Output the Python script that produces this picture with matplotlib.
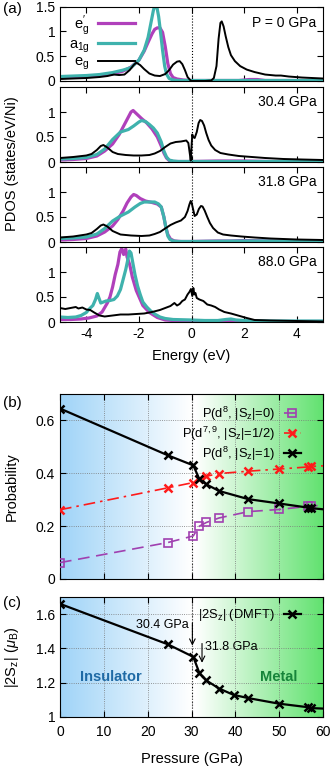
import numpy as np
import matplotlib
matplotlib.use("Agg")
import matplotlib.pyplot as plt

plt.rcParams["font.family"] = ["Liberation Sans", "DejaVu Sans"]
plt.rcParams["mathtext.fontset"] = "custom"
plt.rcParams["mathtext.rm"] = "Liberation Sans"
plt.rcParams["mathtext.it"] = "Liberation Sans:italic"
plt.rcParams["font.size"] = 10

# ---------------- (a) PDOS data ----------------
# P = 0 GPa
e0_eg = [-5.0, -4.5, -4.0, -3.5, -3.2, -2.95, -2.75, -2.55, -2.35, -2.2, -2.1, -1.95, -1.8, -1.6, -1.4, -1.2,
         -1.0, -0.85, -0.7, -0.55, -0.45, -0.35, -0.25, -0.15, -0.05, 0.0, 0.5, 0.75, 0.85, 0.95, 1.03, 1.1,
         1.15, 1.22, 1.3, 1.4, 1.5, 1.65, 1.85, 2.1, 2.4, 2.8, 3.2, 3.4, 3.7, 4.2, 5.0]
d0_eg = [0.04, 0.05, 0.06, 0.08, 0.10, 0.13, 0.12, 0.13, 0.22, 0.32, 0.37, 0.32, 0.24, 0.15, 0.11, 0.10,
         0.14, 0.22, 0.33, 0.39, 0.40, 0.34, 0.22, 0.08, 0.02, 0.0, 0.0, 0.01, 0.06, 0.30, 0.85, 1.17,
         1.20, 1.10, 0.90, 0.68, 0.52, 0.40, 0.30, 0.23, 0.18, 0.13, 0.11, 0.11, 0.09, 0.07, 0.05]
e0_egp = [-5.0, -4.5, -4.0, -3.5, -3.0, -2.6, -2.3, -2.0, -1.8, -1.65, -1.5, -1.4, -1.3, -1.2, -1.1, -1.0,
          -0.9, -0.8, -0.7, -0.55, -0.3, 0.0, 1.8, 2.2, 2.5, 2.8, 3.5, 5.0]
d0_egp = [0.07, 0.08, 0.09, 0.11, 0.14, 0.20, 0.28, 0.42, 0.60, 0.78, 0.95, 1.04, 1.07, 1.07, 0.98, 0.70,
          0.35, 0.15, 0.07, 0.04, 0.02, 0.01, 0.01, 0.03, 0.03, 0.01, 0.01, 0.01]
e0_a1g = [-5.0, -4.5, -4.0, -3.5, -3.0, -2.6, -2.3, -2.0, -1.8, -1.65, -1.55, -1.45, -1.38, -1.32, -1.25,
          -1.17, -1.1, -1.02, -0.95, -0.85, -0.7, -0.5, 0.0, 5.0]
d0_a1g = [0.09, 0.10, 0.11, 0.13, 0.17, 0.22, 0.27, 0.42, 0.62, 0.88, 1.15, 1.42, 1.55, 1.50, 1.30,
          0.95, 0.62, 0.30, 0.14, 0.05, 0.02, 0.01, 0.01, 0.01]

# P = 30.4 GPa
e1_eg = [-5.0, -4.5, -4.0, -3.8, -3.6, -3.45, -3.35, -3.2, -3.0, -2.8, -2.5, -2.2, -1.9, -1.6, -1.4, -1.2,
         -1.0, -0.8, -0.6, -0.4, -0.2, -0.12, -0.06, -0.03, 0.0, 0.03, 0.06, 0.12, 0.2, 0.27, 0.33, 0.4,
         0.48, 0.56, 0.65, 0.75, 0.9, 1.1, 1.4, 1.8, 2.3, 2.8, 3.5, 4.2, 5.0]
d1_eg = [0.08, 0.10, 0.13, 0.16, 0.24, 0.32, 0.34, 0.29, 0.20, 0.16, 0.14, 0.13, 0.13, 0.14, 0.17, 0.22,
         0.30, 0.37, 0.40, 0.41, 0.43, 0.38, 0.15, 0.03, 0.30, 0.55, 0.50, 0.48, 0.60, 0.78, 0.84, 0.82,
         0.73, 0.58, 0.44, 0.33, 0.24, 0.18, 0.15, 0.12, 0.10, 0.08, 0.06, 0.05, 0.04]
e1_egp = [-5.0, -4.5, -4.0, -3.6, -3.3, -3.0, -2.75, -2.55, -2.4, -2.3, -2.22, -2.1, -1.9, -1.7, -1.5, -1.3,
          -1.15, -1.05, -0.95, -0.85, -0.7, -0.5, 0.0, 1.0, 1.5, 2.0, 3.0, 5.0]
d1_egp = [0.04, 0.05, 0.07, 0.12, 0.22, 0.36, 0.55, 0.75, 0.90, 1.00, 1.03, 0.97, 0.87, 0.78, 0.66, 0.50,
          0.32, 0.18, 0.08, 0.03, 0.01, 0.01, 0.01, 0.02, 0.02, 0.02, 0.01, 0.01]
e1_a1g = [-5.0, -4.5, -4.0, -3.6, -3.3, -3.0, -2.7, -2.4, -2.2, -2.0, -1.9, -1.75, -1.6, -1.45, -1.3, -1.15,
          -1.05, -0.95, -0.85, -0.7, -0.5, 0.0, 5.0]
d1_a1g = [0.06, 0.07, 0.09, 0.15, 0.26, 0.45, 0.60, 0.65, 0.72, 0.80, 0.83, 0.81, 0.75, 0.68, 0.58, 0.40,
          0.22, 0.10, 0.04, 0.02, 0.01, 0.01, 0.01]

# P = 31.8 GPa
e2_eg = [-5.0, -4.5, -4.0, -3.8, -3.6, -3.45, -3.35, -3.2, -3.0, -2.7, -2.3, -1.9, -1.6, -1.4, -1.2, -1.0,
         -0.8, -0.6, -0.4, -0.25, -0.15, -0.08, -0.03, 0.0, 0.05, 0.12, 0.2, 0.28, 0.36, 0.42, 0.5, 0.6,
         0.7, 0.82, 1.0, 1.2, 1.5, 1.9, 2.4, 3.0, 4.0, 5.0]
d2_eg = [0.09, 0.11, 0.15, 0.18, 0.26, 0.33, 0.35, 0.31, 0.22, 0.15, 0.13, 0.12, 0.13, 0.16, 0.20, 0.27,
         0.34, 0.39, 0.43, 0.50, 0.62, 0.75, 0.82, 0.80, 0.68, 0.52, 0.55, 0.66, 0.72, 0.71, 0.63, 0.50,
         0.38, 0.28, 0.19, 0.15, 0.13, 0.11, 0.09, 0.07, 0.05, 0.04]
e2_egp = [-5.0, -4.5, -4.0, -3.6, -3.3, -3.0, -2.8, -2.6, -2.45, -2.3, -2.2, -2.1, -1.95, -1.75, -1.5, -1.3,
          -1.15, -1.05, -0.98, -0.9, -0.8, -0.65, -0.4, 0.0, 1.0, 1.5, 2.0, 3.0, 5.0]
d2_egp = [0.04, 0.05, 0.07, 0.12, 0.20, 0.32, 0.45, 0.62, 0.78, 0.90, 0.95, 0.93, 0.87, 0.82, 0.79, 0.76,
          0.70, 0.50, 0.30, 0.15, 0.06, 0.02, 0.01, 0.01, 0.02, 0.02, 0.03, 0.02, 0.01]
e2_a1g = [-5.0, -4.5, -4.0, -3.6, -3.3, -3.0, -2.7, -2.4, -2.15, -1.95, -1.8, -1.6, -1.4, -1.25, -1.15,
          -1.05, -0.97, -0.9, -0.82, -0.7, -0.5, 0.0, 2.0, 3.0, 5.0]
d2_a1g = [0.07, 0.08, 0.10, 0.16, 0.27, 0.42, 0.52, 0.60, 0.70, 0.77, 0.80, 0.80, 0.80, 0.76, 0.70,
          0.50, 0.28, 0.12, 0.05, 0.02, 0.01, 0.01, 0.02, 0.02, 0.01]

# P = 88.0 GPa
e3_eg = [-5.0, -4.8, -4.6, -4.4, -4.3, -4.15, -4.0, -3.85, -3.7, -3.5, -3.3, -3.0, -2.7, -2.4, -2.1, -1.8,
         -1.5, -1.2, -1.0, -0.8, -0.65, -0.55, -0.45, -0.35, -0.25, -0.15, -0.08, -0.02, 0.03, 0.07, 0.11,
         0.15, 0.2, 0.3, 0.45, 0.6, 0.75, 0.9, 1.05, 1.25, 1.5, 1.7, 1.9, 2.1, 2.4, 3.0, 4.0, 5.0]
d3_eg = [0.28, 0.26, 0.28, 0.30, 0.27, 0.29, 0.25, 0.24, 0.19, 0.13, 0.11, 0.13, 0.15, 0.15, 0.16, 0.17,
         0.20, 0.24, 0.28, 0.32, 0.38, 0.33, 0.36, 0.42, 0.45, 0.55, 0.60, 0.66, 0.52, 0.68, 0.55,
         0.58, 0.48, 0.45, 0.42, 0.35, 0.33, 0.30, 0.25, 0.20, 0.17, 0.14, 0.11, 0.08, 0.04, 0.03, 0.02, 0.01]
e3_egp = [-5.0, -4.6, -4.2, -3.9, -3.6, -3.4, -3.2, -3.1, -3.0, -2.9, -2.8, -2.72, -2.65, -2.58, -2.5,
          -2.45, -2.35, -2.25, -2.1, -1.95, -1.85, -1.6, -1.3, -1.0, -0.7, 0.0, 1.0, 1.5, 2.0, 3.0, 5.0]
d3_egp = [0.05, 0.05, 0.06, 0.08, 0.12, 0.20, 0.38, 0.50, 0.70, 0.95, 1.15, 1.40, 1.47, 1.35, 1.46,
          1.30, 1.15, 0.90, 0.63, 0.45, 0.33, 0.19, 0.09, 0.04, 0.03, 0.02, 0.02, 0.03, 0.02, 0.01, 0.01]
e3_a1g = [-5.0, -4.7, -4.4, -4.2, -4.0, -3.85, -3.75, -3.65, -3.58, -3.52, -3.45, -3.35, -3.25, -3.1, -2.95,
          -2.82, -2.7, -2.6, -2.5, -2.42, -2.36, -2.3, -2.22, -2.15, -2.05, -1.95, -1.85, -1.7, -1.55, -1.4,
          -1.2, -1.0, -0.7, 0.0, 0.5, 1.0, 1.3, 1.5, 1.7, 2.0, 3.0, 5.0]
d3_a1g = [0.10, 0.09, 0.10, 0.13, 0.19, 0.28, 0.33, 0.45, 0.57, 0.48, 0.38, 0.40, 0.42, 0.43, 0.45,
          0.52, 0.65, 0.85, 1.05, 1.25, 1.42, 1.38, 1.15, 0.95, 0.72, 0.55, 0.40, 0.30, 0.22, 0.16,
          0.10, 0.07, 0.05, 0.04, 0.03, 0.03, 0.05, 0.06, 0.04, 0.03, 0.02, 0.02]

pdos_labels = ["P = 0 GPa", "30.4 GPa", "31.8 GPa", "88.0 GPa"]

# ---------------- (b) probabilities ----------------
press_b = [0.0, 24.6, 30.4, 31.8, 33.4, 36.3, 43.0, 49.9, 56.6, 57.3, 88.0]
prob_sz0 = [0.062, 0.138, 0.163, 0.200, 0.214, 0.231, 0.255, 0.263, 0.275, 0.277, 0.29]
prob_sz12 = [0.262, 0.345, 0.365, 0.378, 0.389, 0.399, 0.408, 0.416, 0.424, 0.426, 0.45]
prob_sz1 = [0.645, 0.468, 0.430, 0.378, 0.358, 0.333, 0.302, 0.286, 0.270, 0.268, 0.22]

# ---------------- (c) |2Sz| ----------------
press_c = [0.0, 24.6, 30.4, 31.8, 33.4, 36.3, 39.6, 43.0, 49.9, 56.6, 57.3, 88.0]
two_sz = [1.66, 1.424, 1.351, 1.257, 1.213, 1.166, 1.129, 1.110, 1.078, 1.057, 1.052, 1.02]

c_egp = "#b040bb"
c_a1g = "#3fb2ad"

fig = plt.figure(figsize=(3.32, 7.70), dpi=100)
W, H = 332.0, 770.0
left = 60 / W
width = 263 / W


def ax_at(top_px, bot_px):
    return fig.add_axes([left, 1 - bot_px / H, width, (bot_px - top_px) / H])


def style_ticks(ax):
    ax.tick_params(direction="in", top=True, right=True, length=4, width=0.8, labelsize=10)
    for s in ax.spines.values():
        s.set_linewidth(0.8)


pdos_sets = [
    (e0_egp, d0_egp, e0_a1g, d0_a1g, e0_eg, d0_eg),
    (e1_egp, d1_egp, e1_a1g, d1_a1g, e1_eg, d1_eg),
    (e2_egp, d2_egp, e2_a1g, d2_a1g, e2_eg, d2_eg),
    (e3_egp, d3_egp, e3_a1g, d3_a1g, e3_eg, d3_eg),
]
boxes = [(6.5, 81), (87, 162), (167, 242), (247, 322)]
for i, (box, data) in enumerate(zip(boxes, pdos_sets)):
    ax = ax_at(*box)
    ep, dp, ea, da, ee, de = data
    ax.plot(ep, dp, color=c_egp, lw=2.3, label=r"e$_{\rm g}^{\prime}$", solid_joinstyle="round")
    ax.plot(ea, da, color=c_a1g, lw=2.3, label=r"a$_{\rm 1g}$", solid_joinstyle="round")
    ax.plot(ee, de, color="black", lw=1.4, label=r"e$_{\rm g}$")
    ax.axvline(0, color="black", ls=":", lw=0.8)
    ax.set_xlim(-5, 5)
    ax.set_ylim(0, 1.5)
    ax.set_xticks([-4, -2, 0, 2, 4])
    if i == 0:
        ax.set_yticks([0, 0.5, 1, 1.5])
        ax.set_yticklabels(["0", "0.5", "1", "1.5"])
        leg = ax.legend(loc="upper left", bbox_to_anchor=(0.0, 1.03), frameon=False, markerfirst=False,
                        handlelength=2.5, handletextpad=0.6, labelspacing=0.0, borderpad=0.1,
                        fontsize=10.5)
        for t in leg.get_texts():
            t.set_ha("right")
    else:
        ax.set_yticks([0, 0.5, 1])
        ax.set_yticklabels(["0", "0.5", "1"])
    ax.text(0.975, 0.8 if i else 0.78, pdos_labels[i], transform=ax.transAxes, ha="right", va="center",
            fontsize=10)
    style_ticks(ax)
    if i < 3:
        ax.set_xticklabels([])
    else:
        ax.set_xticklabels(["-4", "-2", "0", "2", "4"])
        ax.set_xlabel("Energy (eV)", fontsize=10.5, labelpad=6)

fig.text(12 / W, 1 - 164 / H, "PDOS (states/eV/Ni)", rotation=90, ha="center", va="center", fontsize=10.5)
fig.text(12 / W, 1 - 487 / H, "Probability", rotation=90, ha="center", va="center", fontsize=10.5)
fig.text(12 / W, 1 - 657 / H, r"|2S$_{\rm z}$| ($\mu_{\rm B}$)", rotation=90, ha="center", va="center",
         fontsize=10.5)
fig.text(3 / W, 1 - 9 / H, "(a)", ha="left", va="center", fontsize=11)
fig.text(3 / W, 1 - 403 / H, "(b)", ha="left", va="center", fontsize=11)
fig.text(3 / W, 1 - 603 / H, "(c)", ha="left", va="center", fontsize=11)

# background gradient blue -> white -> green
pg = np.linspace(0, 60, 241)
blue = np.array([160, 212, 248]) / 255.0
green = np.array([98, 226, 112]) / 255.0
white = np.ones(3)
grad = np.zeros((1, pg.size, 3))
for k, p in enumerate(pg):
    if p <= 30:
        t = p / 30.0
        grad[0, k] = blue * (1 - t) + white * t
    else:
        t = (p - 31) / 29.0 if p > 31 else 0.0
        grad[0, k] = white * (1 - t) + green * t

mk = dict(marker="x", ms=5.5, mew=1.8)

# ---------------- (b) ----------------
axb = ax_at(394, 579)
axb.imshow(grad, extent=[0, 60, 0, 0.7], aspect="auto", zorder=0, interpolation="bilinear")
axb.grid(True, color="#777777", ls=":", lw=0.6, zorder=1)
axb.axvline(30, color="black", ls=":", lw=0.8, zorder=1)
axb.plot(press_b, prob_sz0, color="#a040b0", ls=(0, (7, 4)), lw=1.2, marker="s", ms=5.5, mfc="none",
         mew=1.2, label=r"P(d$^{8}$, |S$_{\rm z}$|=0)", zorder=3)
axb.plot(press_b, prob_sz12, color="#ff1a1a", ls=(0, (7, 3, 1.5, 3)), lw=1.2,
         label=r"P(d$^{7,9}$, |S$_{\rm z}$|=1/2)", zorder=3, **mk)
axb.plot(press_b, prob_sz1, color="black", lw=1.6,
         label=r"P(d$^{8}$, |S$_{\rm z}$|=1)", zorder=4, **mk)
axb.set_xlim(0, 60)
axb.set_ylim(0, 0.7)
axb.set_xticks(np.arange(0, 61, 10))
axb.set_xticklabels([])
axb.set_yticks([0, 0.2, 0.4, 0.6])
axb.set_yticklabels(["0", "0.2", "0.4", "0.6"])
style_ticks(axb)
legb = axb.legend(loc="upper right", bbox_to_anchor=(0.945, 0.985), frameon=False, markerfirst=False,
                  handlelength=1.3, handletextpad=0.7, labelspacing=0.15, borderpad=0.1, fontsize=9.3)
legb.set_zorder(5)

# ---------------- (c) ----------------
axc = ax_at(597, 717)
axc.imshow(grad, extent=[0, 60, 1.0, 1.7], aspect="auto", zorder=0, interpolation="bilinear")
axc.grid(True, color="#777777", ls=":", lw=0.6, zorder=1)
axc.axvline(30, color="black", ls=":", lw=0.8, zorder=1)
axc.plot(press_c, two_sz, color="black", lw=1.6, label=r"|2S$_{\rm z}$| (DMFT)", zorder=4, **mk)
axc.set_xlim(0, 60)
axc.set_ylim(1.0, 1.7)
axc.set_xticks(np.arange(0, 61, 10))
axc.set_xticklabels([str(v) for v in range(0, 61, 10)])
axc.set_yticks([1.0, 1.2, 1.4, 1.6])
axc.set_yticklabels(["1", "1.2", "1.4", "1.6"])
axc.set_xlabel("Pressure (GPa)", fontsize=10.5, labelpad=9)
style_ticks(axc)
axc.tick_params(axis="x", pad=6)
legc = axc.legend(loc="upper right", bbox_to_anchor=(0.945, 0.98), frameon=False, markerfirst=False,
                  handlelength=1.3, handletextpad=0.7, borderpad=0.1, fontsize=9.3)
legc.set_zorder(5)

axc.annotate("", xy=(30.2, 1.40), xytext=(30.2, 1.565),
             arrowprops=dict(arrowstyle="->", lw=0.8, color="black"), zorder=5)
axc.text(29.3, 1.535, "30.4 GPa", ha="right", va="center", fontsize=9, zorder=5)
axc.annotate("", xy=(32.4, 1.30), xytext=(32.4, 1.445),
             arrowprops=dict(arrowstyle="->", lw=0.8, color="black"), zorder=5)
axc.text(33.0, 1.41, "31.8 GPa", ha="left", va="center", fontsize=9, zorder=5)
axc.text(11.6, 1.235, "Insulator", ha="center", va="center", fontsize=10.5, fontweight="bold",
         color="#1f6aa5", zorder=5)
axc.text(49.8, 1.235, "Metal", ha="center", va="center", fontsize=10.5, fontweight="bold",
         color="#17843a", zorder=5)

fig.savefig("out.png", dpi=100)
